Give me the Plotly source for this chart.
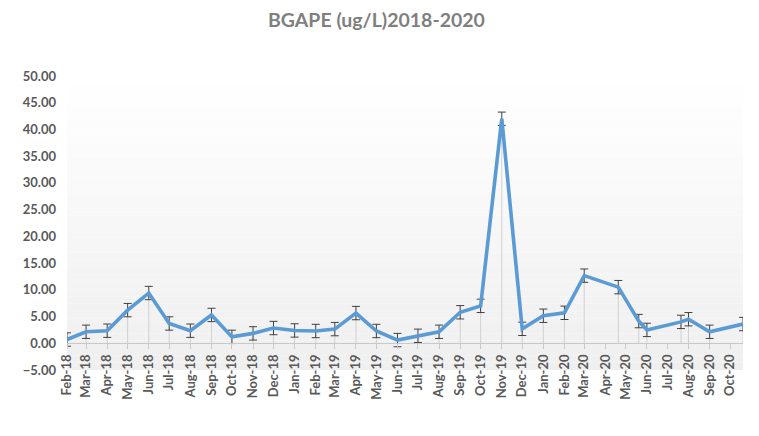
import plotly.graph_objects as go

# ---- data ----
dates = [
    "2018-02-01", "2018-03-01", "2018-04-01", "2018-05-01", "2018-06-01", "2018-07-01",
    "2018-08-01", "2018-09-01", "2018-10-01", "2018-11-01", "2018-12-01", "2019-01-01",
    "2019-02-01", "2019-03-01", "2019-04-01", "2019-05-01", "2019-06-01", "2019-07-01",
    "2019-08-01", "2019-09-01", "2019-10-01", "2019-11-01", "2019-12-01", "2020-01-01",
    "2020-02-01", "2020-03-01", "2020-04-20", "2020-05-20", "2020-06-01", "2020-07-21",
    "2020-08-01", "2020-09-01", "2020-10-20",
]
bgape = [
    0.7, 2.15, 2.35, 6.2, 9.4, 3.7,
    2.35, 5.3, 1.2, 1.85, 2.85, 2.4,
    2.3, 2.65, 5.65, 2.3, 0.6, 1.4,
    2.15, 5.8, 7.0, 42.0, 2.7, 5.15,
    5.7, 12.65, 10.5, 4.15, 2.5, 4.0,
    4.5, 2.15, 3.6,
]
std_error = [1.25] * len(bgape)

title_text = "BGAPE (ug/L)2018-2020"
y_min, y_max, y_step = -5, 50, 5

# ---- figure ----
W, H = 759, 436
m_l, m_r, m_t, m_b = 67, 16, 76, 66

fig = go.Figure()

# background gradient (white top -> light gray bottom) made of thin strips
n_strips = 40
shapes = []
for i in range(n_strips):
    f0 = i / n_strips
    f1 = (i + 1) / n_strips
    c = int(round(239 + (255 - 239) * (f0 + f1) / 2))
    shapes.append(dict(type="rect", xref="paper", yref="paper", x0=0, x1=1, y0=f0, y1=f1,
                       fillcolor=f"rgb({c},{c},{c})", line=dict(width=0), layer="below"))

# drop lines from each point to the zero line
drop_x, drop_y = [], []
for d, v in zip(dates, bgape):
    drop_x += [d, d, None]
    drop_y += [0, v, None]
fig.add_trace(go.Scatter(x=drop_x, y=drop_y, mode="lines",
                         line=dict(color="#d0d0d0", width=1),
                         hoverinfo="skip", showlegend=False))

# main series with standard-error bars
fig.add_trace(go.Scatter(
    x=dates, y=bgape, mode="lines",
    line=dict(color="#5B9BD5", width=3.6),
    error_y=dict(type="data", array=std_error, visible=True,
                 color="#404040", thickness=1, width=4),
    showlegend=False, name="BGAPE",
))

zero_pos = (0 - y_min) / (y_max - y_min)

tick_font = dict(family="Lato, 'Open Sans', sans-serif", size=13, color="#595959", weight="bold")

fig.update_layout(
    width=W, height=H,
    margin=dict(l=m_l, r=m_r, t=m_t, b=m_b),
    paper_bgcolor="white",
    plot_bgcolor="white",
    shapes=shapes,
    title=dict(text=title_text, x=0.496, xref="container", xanchor="center",
               y=1 - 20 / H, yref="container", yanchor="middle",
               font=dict(family="Lato, 'Open Sans', sans-serif", size=19.5,
                         color="#7f7f7f", weight="bold")),
    xaxis=dict(
        type="date",
        range=[dates[0], dates[-1]],
        tick0="2018-02-01", dtick="M1", tickformat="%b-%y",
        tickangle=-90,
        tickfont=tick_font,
        showgrid=False, zeroline=False,
        showline=True, linecolor="#c8c8c8", linewidth=1,
        ticks="outside", ticklen=5, tickcolor="#c8c8c8",
        anchor="free", position=zero_pos,
        automargin=False,
    ),
    yaxis=dict(
        range=[y_min, y_max], tick0=0, dtick=y_step, tickformat=".2f",
        tickfont=tick_font,
        showgrid=False, zeroline=False, showline=False,
        ticks="", ticklabelstandoff=10,
        automargin=False,
    ),
)

fig.write_html("out.html",
               config={"displayModeBar": False},
               post_script="document.body.style.margin='0';document.body.style.overflow='hidden';")
